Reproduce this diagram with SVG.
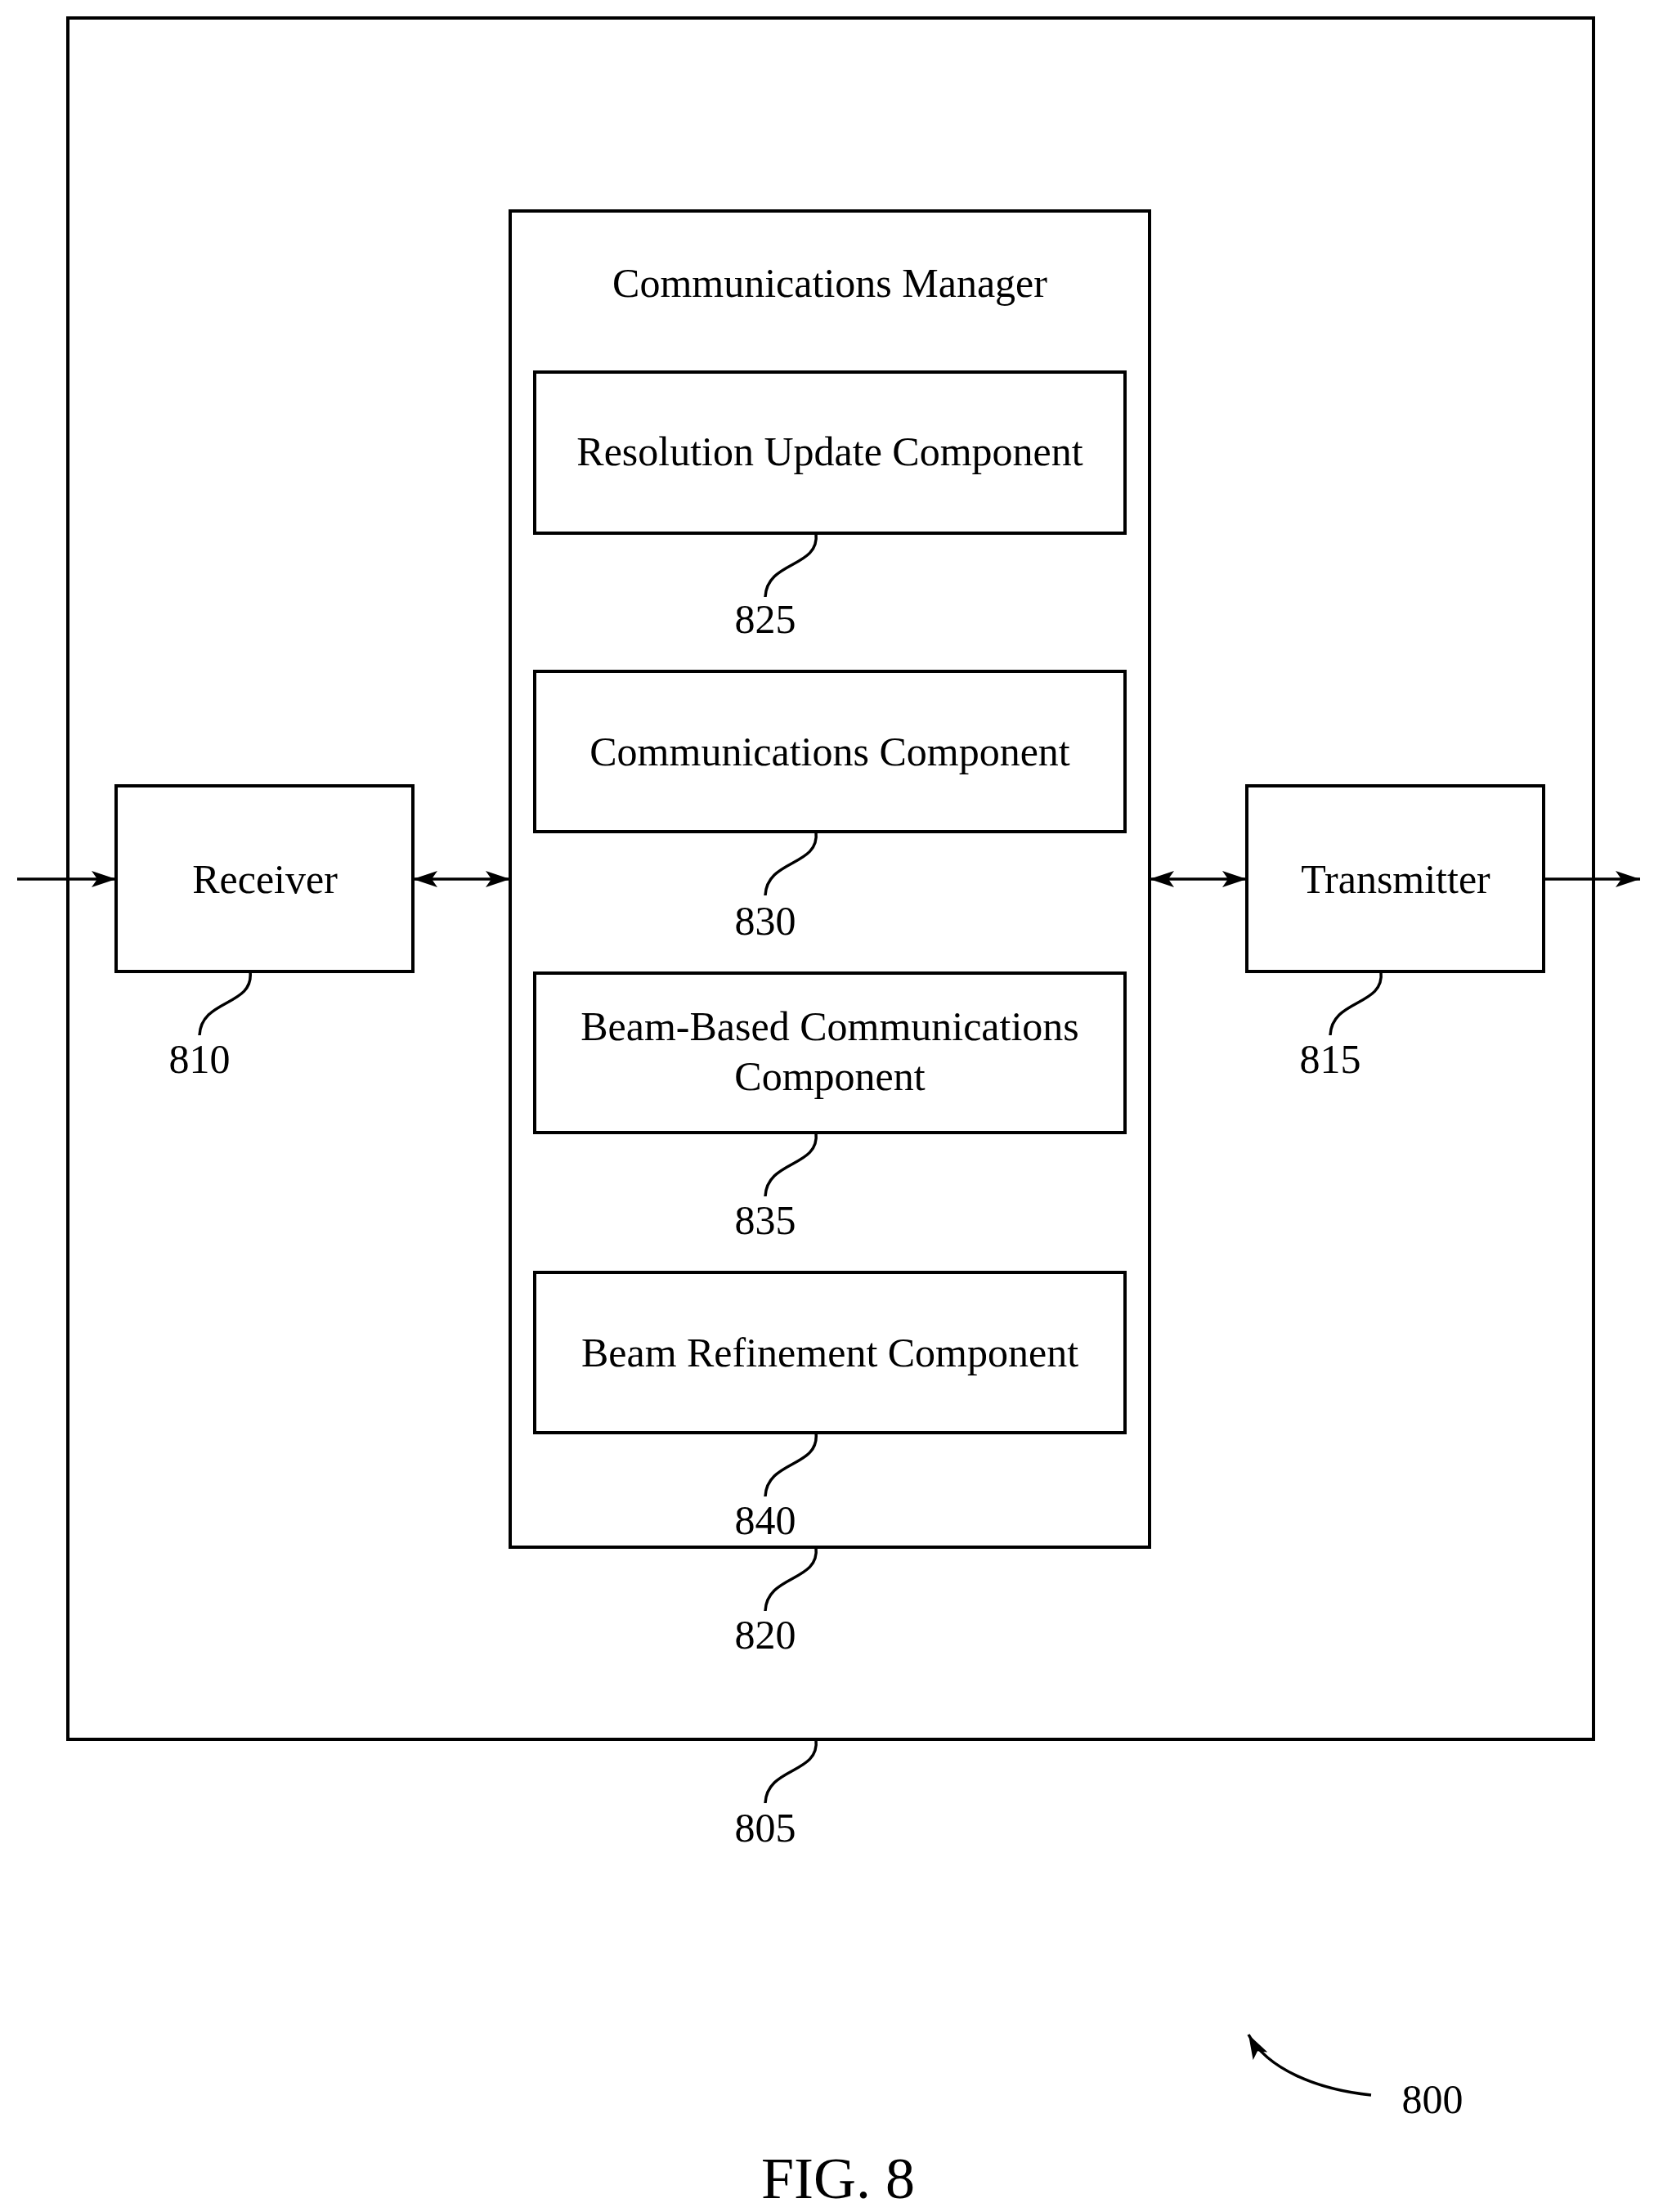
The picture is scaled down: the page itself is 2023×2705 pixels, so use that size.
<svg xmlns="http://www.w3.org/2000/svg" width="2023" height="2705" viewBox="0 0 2023 2705">
<defs>
<style>
.b{fill:#fff;stroke:#000;stroke-width:4}
.l{fill:none;stroke:#000;stroke-width:3.5}
text{font-family:"Liberation Serif",serif;font-size:50px;fill:#000;text-anchor:middle}
</style>
<marker id="m" viewBox="0 0 30 20" refX="30" refY="10" markerWidth="30" markerHeight="20" orient="auto-start-reverse" markerUnits="userSpaceOnUse"><path d="M0 0L30 10L0 20L7 10z"/></marker>
</defs>
<rect width="2023" height="2705" fill="#fff"/>
<g id="n805"><rect class="b" x="83" y="22" width="1866" height="2105"/><path class="l" d="M998 2127C1003 2170 938 2160 936 2205"/><text x="936" y="2252">805</text></g>
<g id="n820"><rect class="b" x="624" y="258" width="782" height="1634"/><text x="1015" y="363">Communications Manager</text><path class="l" d="M998 1892C1003 1935 938 1925 936 1970"/><text x="936" y="2016">820</text></g>
<g id="n825"><rect class="b" x="654" y="455" width="722" height="197"/><text x="1015" y="569">Resolution Update Component</text><path class="l" d="M998 652C1003 695 938 685 936 730"/><text x="936" y="774">825</text></g>
<g id="n830"><rect class="b" x="654" y="821" width="722" height="196"/><text x="1015" y="936">Communications Component</text><path class="l" d="M998 1017C1003 1060 938 1050 936 1095"/><text x="936" y="1143">830</text></g>
<g id="n835"><rect class="b" x="654" y="1190" width="722" height="195"/><text x="1015" y="1272">Beam-Based Communications</text><text x="1015" y="1333">Component</text><path class="l" d="M998 1385C1003 1428 938 1418 936 1463"/><text x="936" y="1509">835</text></g>
<g id="n840"><rect class="b" x="654" y="1556" width="722" height="196"/><text x="1015" y="1671">Beam Refinement Component</text><path class="l" d="M998 1752C1003 1795 938 1785 936 1830"/><text x="936" y="1876">840</text></g>
<g id="n810"><rect class="b" x="142" y="961" width="363" height="227"/><text x="324" y="1092">Receiver</text><path class="l" d="M306 1188C311 1231 246 1221 244 1266"/><text x="244" y="1312">810</text></g>
<g id="n815"><rect class="b" x="1525" y="961" width="363" height="227"/><text x="1707" y="1092">Transmitter</text><path class="l" d="M1689 1188C1694 1231 1629 1221 1627 1266"/><text x="1627" y="1312">815</text></g>
<g id="connectors">
<line class="l" x1="21" y1="1075" x2="142" y2="1075" marker-end="url(#m)"/>
<line class="l" x1="505" y1="1075" x2="624" y2="1075" marker-start="url(#m)" marker-end="url(#m)"/>
<line class="l" x1="1406" y1="1075" x2="1525" y2="1075" marker-start="url(#m)" marker-end="url(#m)"/>
<line class="l" x1="1888" y1="1075" x2="2006" y2="1075" marker-end="url(#m)"/>
<path class="l" d="M1677 2562C1610 2555 1550 2530 1527 2488" marker-end="url(#m)"/>
</g>
<text x="1752" y="2584">800</text>
<text x="1025" y="2688" style="font-size:72px">FIG. 8</text>
</svg>
